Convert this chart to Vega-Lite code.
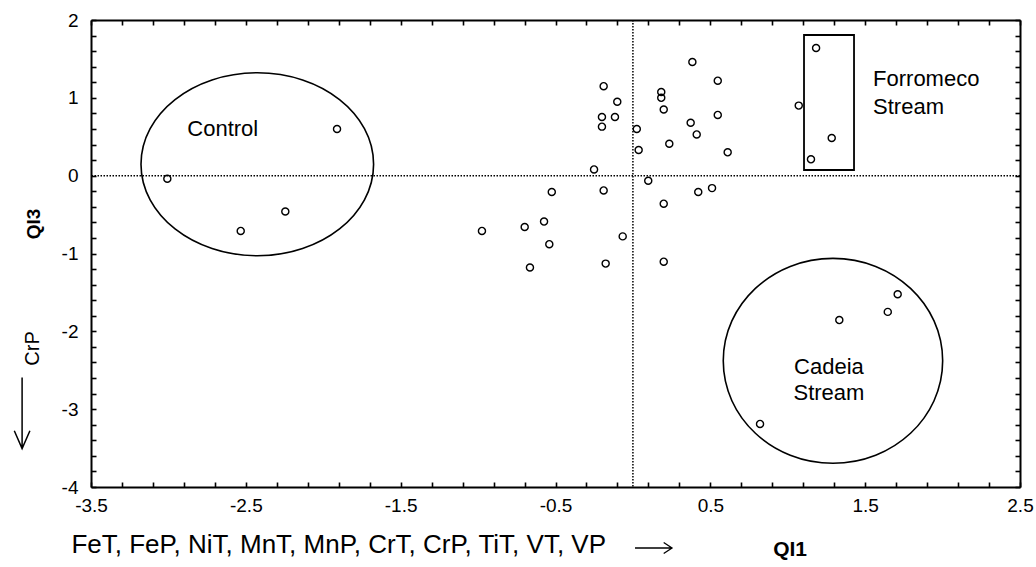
{
  "$schema": "https://vega.github.io/schema/vega-lite/v6.json",
  "width": 929,
  "height": 467,
  "autosize": {"type": "none"},
  "padding": {"left": 91, "top": 20, "right": 16, "bottom": 80},
  "background": "white",
  "config": {
    "view": {"stroke": null},
    "font": "Liberation Sans",
    "text": {"font": "Liberation Sans", "color": "black"}
  },
  "datasets": {
    "pts": [
      {"x": -1.911, "y": 0.60}, {"x": -3.007, "y": -0.04}, {"x": -2.245, "y": -0.46}, {"x": -2.533, "y": -0.71},
      {"x": 0.384, "y": 1.46}, {"x": 0.548, "y": 1.22}, {"x": -0.189, "y": 1.15}, {"x": 0.183, "y": 1.075},
      {"x": 0.183, "y": 1.00}, {"x": -0.101, "y": 0.95}, {"x": 0.199, "y": 0.85}, {"x": 0.548, "y": 0.78},
      {"x": -0.200, "y": 0.754}, {"x": -0.116, "y": 0.754}, {"x": -0.200, "y": 0.63}, {"x": 0.373, "y": 0.68},
      {"x": 0.412, "y": 0.53}, {"x": 0.025, "y": 0.60}, {"x": 0.037, "y": 0.33}, {"x": 0.235, "y": 0.41},
      {"x": -0.251, "y": 0.08}, {"x": 0.099, "y": -0.065}, {"x": -0.189, "y": -0.19}, {"x": -0.524, "y": -0.21},
      {"x": 0.422, "y": -0.21}, {"x": 0.511, "y": -0.16}, {"x": 0.199, "y": -0.36}, {"x": -0.574, "y": -0.59},
      {"x": -0.699, "y": -0.66}, {"x": -0.975, "y": -0.71}, {"x": -0.540, "y": -0.88}, {"x": -0.066, "y": -0.78},
      {"x": -0.665, "y": -1.18}, {"x": -0.176, "y": -1.13}, {"x": 0.199, "y": -1.105}, {"x": 0.612, "y": 0.30},
      {"x": 1.071, "y": 0.90}, {"x": 1.183, "y": 1.64}, {"x": 1.284, "y": 0.484}, {"x": 1.150, "y": 0.21},
      {"x": 1.710, "y": -1.524}, {"x": 1.646, "y": -1.75}, {"x": 1.333, "y": -1.855}, {"x": 0.821, "y": -3.19}
    ],
    "zero": [{"v": 0}],
    "box": [{"x1": 1.105, "x2": 1.428, "y1": 1.807, "y2": 0.073}],
    "ctrl": [{"x": -2.426, "y": 0.147}],
    "cad": [{"x": 1.292, "y": -2.379}],
    "labc": [
      {"t": "Control", "x": -2.649, "y": 0.60},
      {"t": "Cadeia", "x": 1.266, "y": -2.458},
      {"t": "Stream", "x": 1.266, "y": -2.792}
    ],
    "labl": [
      {"t": "Forromeco", "x": 1.551, "y": 1.242},
      {"t": "Stream", "x": 1.551, "y": 0.882}
    ],
    "bottomtxt": [{"t": "FeT, FeP, NiT, MnT, MnP, CrT, CrP, TiT, VT, VP", "x": -1.90, "y": -4.745}],
    "qi1": [{"t": "QI1", "x": 1.015, "y": -4.81}],
    "qi3": [{"t": "QI3", "x": -3.868, "y": -0.62}],
    "crp": [{"t": "CrP", "x": -3.875, "y": -2.22}],
    "arrowr": [{"x": 0.133, "y": -4.784}],
    "arrowd": [{"x": -3.945, "y": -3.05}]
  },
  "resolve": {"axis": {"x": "independent", "y": "independent"}},
  "layer": [
    {
      "data": {"name": "pts"},
      "mark": {"type": "point", "filled": false, "stroke": "black", "strokeWidth": 1.4, "size": 50, "opacity": 1},
      "encoding": {
        "x": {"field": "x", "type": "quantitative",
          "scale": {"domain": [-3.5, 2.5], "nice": false, "zero": false},
          "axis": {"orient": "bottom", "title": null, "grid": false, "ticks": false,
            "values": [-3.5,-2.5,-1.5,-0.5,0.5,1.5,2.5],
            "labelExpr": "toString(datum.value)",
            "labelOverlap": false, "labelFlush": false, "labelBound": false,
            "domainColor": "black", "domainWidth": 2,
            "labelFont": "Liberation Sans", "labelFontSize": 19, "labelColor": "black", "labelPadding": 9}},
        "y": {"field": "y", "type": "quantitative",
          "scale": {"domain": [-4, 2], "nice": false, "zero": false},
          "axis": {"orient": "left", "title": null, "grid": false, "ticks": false,
            "values": [-4,-3,-2,-1,0,1,2],
            "labelExpr": "toString(datum.value)",
            "labelOverlap": false, "labelFlush": false, "labelBound": false,
            "domainColor": "black", "domainWidth": 2,
            "labelFont": "Liberation Sans", "labelFontSize": 19, "labelColor": "black", "labelPadding": 13}}
      }
    },
    {
      "data": {"name": "box"},
      "mark": {"type": "rect", "fill": null, "fillOpacity": 0, "stroke": "black", "strokeWidth": 1.8},
      "encoding": {
        "x": {"field": "x1", "type": "quantitative",
          "scale": {"domain": [-3.5, 2.5], "nice": false, "zero": false},
          "axis": {"orient": "top", "title": null, "grid": false, "labels": false, "ticks": false,
            "domainColor": "black", "domainWidth": 2}},
        "x2": {"field": "x2"},
        "y": {"field": "y1", "type": "quantitative",
          "scale": {"domain": [-4, 2], "nice": false, "zero": false},
          "axis": {"orient": "right", "title": null, "grid": false, "labels": false, "ticks": false,
            "domainColor": "black", "domainWidth": 2}},
        "y2": {"field": "y2"}
      }
    },
    {
      "data": {"name": "zero"},
      "mark": {"type": "rule", "color": "black", "strokeWidth": 1.5, "strokeDash": [1.5, 1.5]},
      "encoding": {
        "x": {"field": "v", "type": "quantitative", "scale": {"domain": [-3.5, 2.5], "nice": false, "zero": false},
          "axis": {"orient": "bottom", "title": null, "grid": false, "labels": false, "domain": false, "ticks": true,
            "offset": -5, "tickSize": 5, "tickWidth": 1.6, "tickColor": "black", "tickOpacity": 1,
            "values": [-3.5,-3.3,-3.1,-2.9,-2.7,-2.5,-2.3,-2.1,-1.9,-1.7,-1.5,-1.3,-1.1,-0.9,-0.7,-0.5,-0.3,-0.1,0.1,0.3,0.5,0.7,0.9,1.1,1.3,1.5,1.7,1.9,2.1,2.3,2.5]}}
      }
    },
    {
      "data": {"name": "zero"},
      "mark": {"type": "rule", "color": "black", "strokeWidth": 1.5, "strokeDash": [1.5, 1.5]},
      "encoding": {
        "y": {"field": "v", "type": "quantitative", "scale": {"domain": [-4, 2], "nice": false, "zero": false},
          "axis": {"orient": "left", "title": null, "grid": false, "labels": false, "domain": false, "ticks": true,
            "offset": -5, "tickSize": 5, "tickWidth": 1.6, "tickColor": "black", "tickOpacity": 1,
            "values": [-4,-3.8,-3.6,-3.4,-3.2,-3,-2.8,-2.6,-2.4,-2.2,-2,-1.8,-1.6,-1.4,-1.2,-1,-0.8,-0.6,-0.4,-0.2,0,0.2,0.4,0.6,0.8,1,1.2,1.4,1.6,1.8,2]}}
      }
    },
    {
      "data": {"name": "ctrl"},
      "mark": {"type": "point", "filled": false, "stroke": "black", "strokeWidth": 1.6, "opacity": 1,
        "shape": "M-1,0A1,0.787,0,1,0,1,0A1,0.787,0,1,0,-1,0Z", "size": 54103},
      "encoding": {
        "x": {"field": "x", "type": "quantitative", "scale": {"domain": [-3.5, 2.5], "nice": false, "zero": false},
          "axis": {"orient": "top", "title": null, "grid": false, "labels": false, "domain": false, "ticks": true,
            "offset": -5, "tickSize": 5, "tickWidth": 1.6, "tickColor": "black", "tickOpacity": 1,
            "values": [-3.5,-3.3,-3.1,-2.9,-2.7,-2.5,-2.3,-2.1,-1.9,-1.7,-1.5,-1.3,-1.1,-0.9,-0.7,-0.5,-0.3,-0.1,0.1,0.3,0.5,0.7,0.9,1.1,1.3,1.5,1.7,1.9,2.1,2.3,2.5]}},
        "y": {"field": "y", "type": "quantitative", "scale": {"domain": [-4, 2], "nice": false, "zero": false},
          "axis": {"orient": "right", "title": null, "grid": false, "labels": false, "domain": false, "ticks": true,
            "offset": -5, "tickSize": 5, "tickWidth": 1.6, "tickColor": "black", "tickOpacity": 1,
            "values": [-4,-3.8,-3.6,-3.4,-3.2,-3,-2.8,-2.6,-2.4,-2.2,-2,-1.8,-1.6,-1.4,-1.2,-1,-0.8,-0.6,-0.4,-0.2,0,0.2,0.4,0.6,0.8,1,1.2,1.4,1.6,1.8,2]}}
      }
    },
    {
      "data": {"name": "cad"},
      "mark": {"type": "point", "filled": false, "stroke": "black", "strokeWidth": 1.6, "opacity": 1,
        "shape": "M-1,0A1,0.934,0,1,0,1,0A1,0.934,0,1,0,-1,0Z", "size": 48136},
      "encoding": {
        "x": {"field": "x", "type": "quantitative", "scale": {"domain": [-3.5, 2.5], "nice": false, "zero": false}, "axis": null},
        "y": {"field": "y", "type": "quantitative", "scale": {"domain": [-4, 2], "nice": false, "zero": false}, "axis": null}
      }
    },
    {
      "data": {"name": "labc"},
      "mark": {"type": "text", "fontSize": 22, "align": "center", "baseline": "middle", "color": "black"},
      "encoding": {
        "x": {"field": "x", "type": "quantitative", "scale": {"domain": [-3.5, 2.5], "nice": false, "zero": false}, "axis": null},
        "y": {"field": "y", "type": "quantitative", "scale": {"domain": [-4, 2], "nice": false, "zero": false}, "axis": null},
        "text": {"field": "t"}
      }
    },
    {
      "data": {"name": "labl"},
      "mark": {"type": "text", "fontSize": 22, "align": "left", "baseline": "middle", "color": "black"},
      "encoding": {
        "x": {"field": "x", "type": "quantitative", "scale": {"domain": [-3.5, 2.5], "nice": false, "zero": false}, "axis": null},
        "y": {"field": "y", "type": "quantitative", "scale": {"domain": [-4, 2], "nice": false, "zero": false}, "axis": null},
        "text": {"field": "t"}
      }
    },
    {
      "data": {"name": "bottomtxt"},
      "mark": {"type": "text", "fontSize": 26, "align": "center", "baseline": "middle", "color": "black"},
      "encoding": {
        "x": {"field": "x", "type": "quantitative", "scale": {"domain": [-3.5, 2.5], "nice": false, "zero": false}, "axis": null},
        "y": {"field": "y", "type": "quantitative", "scale": {"domain": [-4, 2], "nice": false, "zero": false}, "axis": null},
        "text": {"field": "t"}
      }
    },
    {
      "data": {"name": "qi1"},
      "mark": {"type": "text", "fontSize": 21, "fontWeight": "bold", "align": "center", "baseline": "middle", "color": "black"},
      "encoding": {
        "x": {"field": "x", "type": "quantitative", "scale": {"domain": [-3.5, 2.5], "nice": false, "zero": false}, "axis": null},
        "y": {"field": "y", "type": "quantitative", "scale": {"domain": [-4, 2], "nice": false, "zero": false}, "axis": null},
        "text": {"field": "t"}
      }
    },
    {
      "data": {"name": "qi3"},
      "mark": {"type": "text", "fontSize": 19, "fontWeight": "bold", "align": "center", "baseline": "middle", "angle": 270, "color": "black"},
      "encoding": {
        "x": {"field": "x", "type": "quantitative", "scale": {"domain": [-3.5, 2.5], "nice": false, "zero": false}, "axis": null},
        "y": {"field": "y", "type": "quantitative", "scale": {"domain": [-4, 2], "nice": false, "zero": false}, "axis": null},
        "text": {"field": "t"}
      }
    },
    {
      "data": {"name": "crp"},
      "mark": {"type": "text", "fontSize": 20, "align": "center", "baseline": "middle", "angle": 270, "color": "black"},
      "encoding": {
        "x": {"field": "x", "type": "quantitative", "scale": {"domain": [-3.5, 2.5], "nice": false, "zero": false}, "axis": null},
        "y": {"field": "y", "type": "quantitative", "scale": {"domain": [-4, 2], "nice": false, "zero": false}, "axis": null},
        "text": {"field": "t"}
      }
    },
    {
      "data": {"name": "arrowr"},
      "mark": {"type": "point", "filled": false, "stroke": "black", "strokeWidth": 1.3, "opacity": 1,
        "shape": "M-1,0L1,0M0.55,-0.3L1,0L0.55,0.3", "size": 1369},
      "encoding": {
        "x": {"field": "x", "type": "quantitative", "scale": {"domain": [-3.5, 2.5], "nice": false, "zero": false}, "axis": null},
        "y": {"field": "y", "type": "quantitative", "scale": {"domain": [-4, 2], "nice": false, "zero": false}, "axis": null}
      }
    },
    {
      "data": {"name": "arrowd"},
      "mark": {"type": "point", "filled": false, "stroke": "black", "strokeWidth": 1.5, "opacity": 1,
        "shape": "M0,-1L0,1M-0.22,0.5L0,1L0.22,0.5", "size": 5041},
      "encoding": {
        "x": {"field": "x", "type": "quantitative", "scale": {"domain": [-3.5, 2.5], "nice": false, "zero": false}, "axis": null},
        "y": {"field": "y", "type": "quantitative", "scale": {"domain": [-4, 2], "nice": false, "zero": false}, "axis": null}
      }
    }
  ]
}
